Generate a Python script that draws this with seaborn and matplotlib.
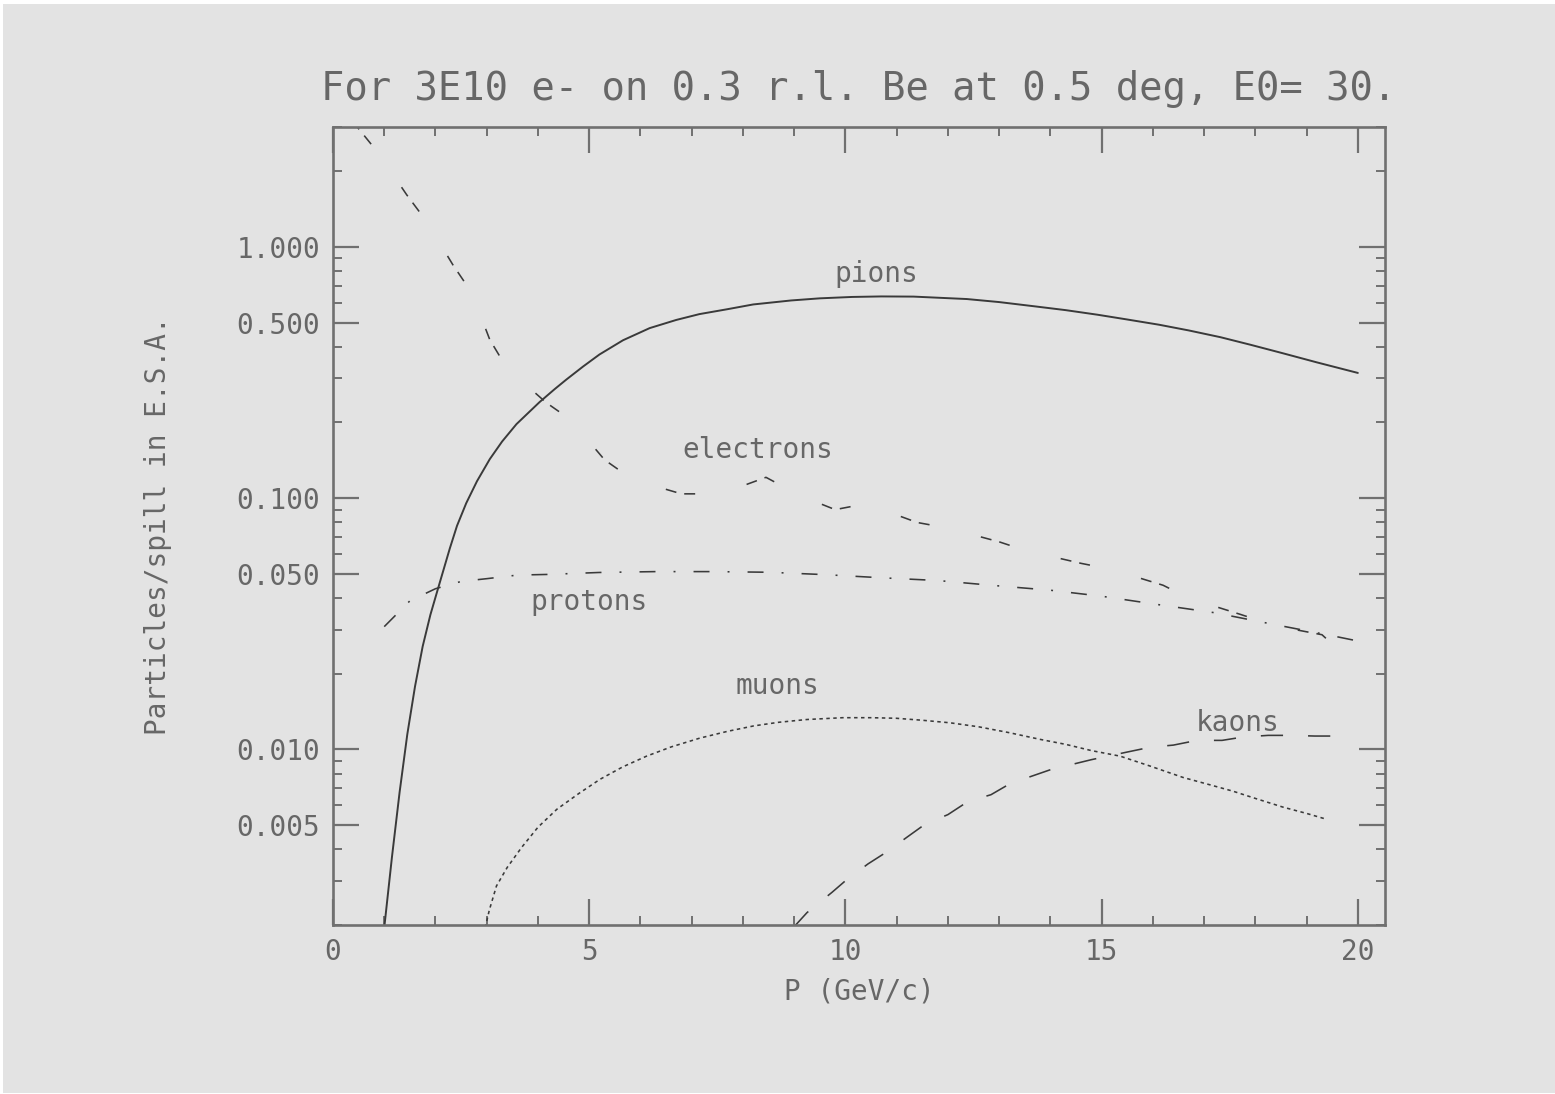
import matplotlib
matplotlib.use("Agg")
import matplotlib.pyplot as plt
from matplotlib.patches import Rectangle
from matplotlib.ticker import FixedLocator, LogLocator, NullFormatter, FuncFormatter, MultipleLocator
import seaborn as sns
import pandas as pd

# Momentum P (GeV/c) and particles per spill for each species
pion_p = [1.0, 1.15, 1.30, 1.45, 1.60, 1.75, 1.90, 2.05, 2.28, 2.42, 2.60, 2.81, 3.06, 3.30,
          3.58, 4.03, 4.33, 4.55, 4.88, 5.2, 5.66, 6.18, 6.7, 7.15, 7.7, 8.2, 8.94, 9.5,
          10.13, 10.7, 11.33, 12.37, 13.0, 13.72, 14.3, 14.92, 15.5, 16.12, 16.7, 17.32,
          17.9, 18.52, 19.2, 20.0]
pion_n = [0.00195, 0.00372, 0.00676, 0.01148, 0.01778, 0.0257, 0.0343, 0.0437, 0.0631,
          0.0776, 0.0955, 0.1168, 0.143, 0.168, 0.197, 0.241, 0.272, 0.296, 0.334, 0.373,
          0.425, 0.475, 0.512, 0.54, 0.565, 0.59, 0.612, 0.624, 0.632, 0.635, 0.634, 0.62,
          0.603, 0.579, 0.56, 0.537, 0.514, 0.49, 0.465, 0.437, 0.408, 0.378, 0.347, 0.315]

elec_p = [0.40, 0.49, 0.88, 1.44, 1.83, 2.34, 2.71, 3.06, 3.39, 4.16, 4.64, 5.3, 5.85, 6.8,
          7.45, 8.0, 8.45, 8.9, 9.4, 9.8, 10.4, 11.4, 12.0, 13.0, 13.5, 14.6, 15.2, 16.2,
          16.7, 17.7, 18.4, 19.3, 19.55]
elec_n = [3.2, 2.97, 2.37, 1.61, 1.26, 0.848, 0.656, 0.427, 0.33, 0.24, 0.205, 0.142, 0.1185,
          0.104, 0.104, 0.112, 0.121, 0.108, 0.097, 0.09, 0.095, 0.08, 0.076, 0.067, 0.062,
          0.055, 0.052, 0.045, 0.040, 0.0345, 0.031, 0.0286, 0.0257]

prot_p = [1.0, 1.5, 2.0, 2.5, 3.0, 3.6, 4.2, 5.2, 6.3, 7.4, 8.5, 9.6, 10.7, 11.8, 12.9,
          14.0, 15.0, 16.1, 17.2, 18.3, 19.4, 20.0]
prot_n = [0.0308, 0.039, 0.0436, 0.0466, 0.0478, 0.0494, 0.0497, 0.0506, 0.051, 0.051,
          0.0507, 0.0496, 0.0482, 0.047, 0.0449, 0.043, 0.0407, 0.0377, 0.035, 0.0316,
          0.0286, 0.027]

muon_p = [2.97, 3.05, 3.19, 3.40, 3.68, 4.0, 4.37, 4.8, 5.21, 5.65, 6.12, 6.6, 7.16, 7.7,
          8.21, 8.7, 9.25, 9.95, 10.5, 10.99, 11.5, 12.04, 12.6, 13.21, 13.8, 14.3, 14.8,
          15.36, 15.94, 16.59, 17.1, 17.56, 18.0, 18.54, 19.0, 19.39]
muon_n = [0.00195, 0.00229, 0.00286, 0.00339, 0.00407, 0.0049, 0.00578, 0.00668, 0.0076,
          0.00851, 0.0094, 0.01023, 0.01109, 0.0118, 0.0124, 0.01282, 0.01315, 0.01337,
          0.01337, 0.0133, 0.01306, 0.01276, 0.0123, 0.01164, 0.01096, 0.01047, 0.00989,
          0.0094, 0.00859, 0.00773, 0.00724, 0.00682, 0.00638, 0.00589, 0.00556, 0.00527]

kaon_p = [8.98, 9.25, 9.74, 10.0, 10.44, 10.8, 11.2, 11.55, 12.0, 12.39, 12.84, 13.21, 14.0,
          14.8, 15.5, 15.95, 16.4, 16.86, 17.35, 17.76, 18.25, 18.7, 19.16, 19.65]
kaon_n = [0.00195, 0.00224, 0.0027, 0.003, 0.0035, 0.0039, 0.00447, 0.00503, 0.0055, 0.0062,
          0.0066, 0.0073, 0.0083, 0.0091, 0.00976, 0.0102, 0.0104, 0.01086, 0.01086, 0.0112,
          0.01137, 0.01137, 0.0113, 0.0113]

# Curve labels: (text, P, particles/spill at baseline)
labels = [("pions", 10.61, 0.726), ("electrons", 8.29, 0.145), ("protons", 4.99, 0.036),
          ("muons", 8.68, 0.01655), ("kaons", 17.65, 0.0118)]

y_major = [0.005, 0.010, 0.050, 0.100, 0.500, 1.000]
title = "For 3E10 e- on 0.3 r.l. Be at 0.5 deg, E0= 30."

BG = "#e3e3e3"
INK = "#3a3a3a"
AXC = "#707070"
TXT = "#676767"

sns.set_theme(style="ticks")
plt.rcParams["font.family"] = ["DejaVu Sans Mono", "DejaVu Sans"]
plt.rcParams["lines.scale_dashes"] = False

fig = plt.figure(figsize=(15.55, 10.94), dpi=100, facecolor="white")
fig.patches.append(Rectangle((3 / 1555, 1 / 1094), 1 - 3 / 1555, 1089 / 1094,
                             transform=fig.transFigure, facecolor=BG, edgecolor="none", zorder=-10))
ax = fig.add_axes([333 / 1555, 1 - 925 / 1094, 1052 / 1555, 798 / 1094])
ax.set_facecolor(BG)

series = [
    (pion_p, pion_n, "-", 1.4),
    (elec_p, elec_n, (0, (7.9, 5.8, 7.9, 38.0)), 1.15),
    (prot_p, prot_n, (0, (11.5, 13.0, 1.4, 13.0)), 1.15),
    (muon_p, muon_n, (0, (2.5, 2.5)), 1.15),
    (kaon_p, kaon_n, (0, (16.0, 18.0)), 1.15),
]
for p, n, ls, lw in series:
    df = pd.DataFrame({"P": p, "N": n})
    sns.lineplot(data=df, x="P", y="N", ax=ax, color=INK, linewidth=lw, linestyle=ls,
                 sort=False, estimator=None)

ax.set_yscale("log")
ax.set_xlim(0, 20.53)
ax.set_ylim(0.002, 3.0)

ax.yaxis.set_major_locator(FixedLocator(y_major))
ax.yaxis.set_major_formatter(FuncFormatter(lambda v, pos: f"{v:.3f}"))
ax.yaxis.set_minor_locator(LogLocator(base=10, subs=(2, 3, 4, 6, 7, 8, 9)))
ax.yaxis.set_minor_formatter(NullFormatter())
ax.xaxis.set_major_locator(MultipleLocator(5))
ax.xaxis.set_minor_locator(MultipleLocator(1))
ax.xaxis.set_major_formatter(FuncFormatter(lambda v, pos: f"{v:.0f}"))

ax.tick_params(which="major", direction="in", length=18.7, width=1.6, color=AXC,
               top=True, right=True, labelsize=20, labelcolor=TXT, pad=9)
ax.tick_params(which="minor", direction="in", length=6.5, width=1.4, color=AXC,
               top=True, right=True)
for s in ax.spines.values():
    s.set_color(AXC)
    s.set_linewidth(1.9)

ax.set_xlabel("P (GeV/c)", fontsize=20, color=TXT)
ax.xaxis.set_label_coords(0.5, -0.066)
ax.set_ylabel("Particles/spill in E.S.A.", fontsize=20, color=TXT)
ax.yaxis.set_label_coords(-0.153, 0.5)
ax.set_title(title, fontsize=28, color=TXT, pad=19.4)

for txt, xp, yp in labels:
    ax.text(xp, yp, txt, ha="center", va="baseline", fontsize=20, color=TXT)

fig.savefig("out.png", dpi=100, facecolor=fig.get_facecolor())
